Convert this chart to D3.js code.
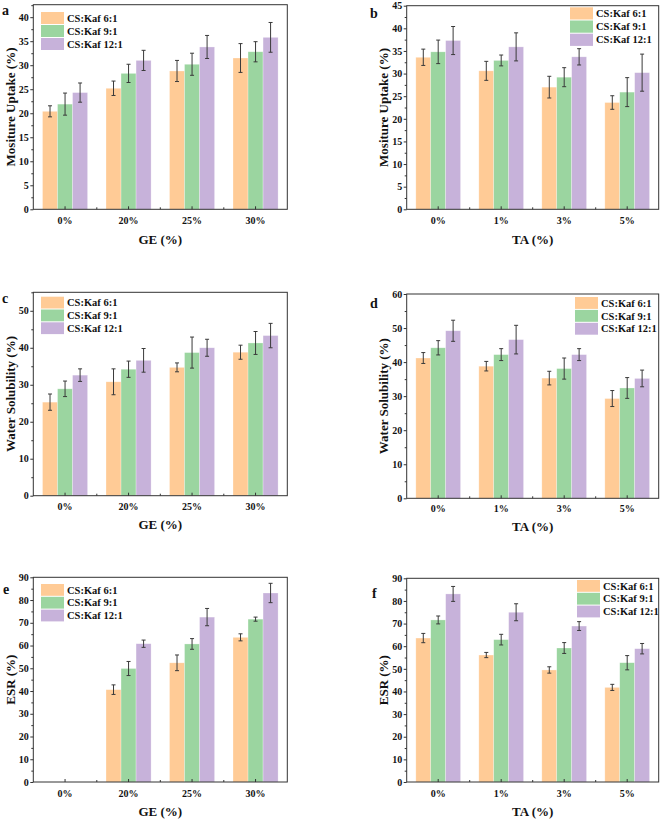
<!DOCTYPE html>
<html>
<head>
<meta charset="utf-8">
<script src="https://cdn.jsdelivr.net/npm/d3@7"></script>
<style>
html,body{margin:0;padding:0;background:#fff;}
svg{display:block;}
</style>
</head>
<body>
<svg id="chart" width="661" height="820"></svg>
<script>
// ---------- data ----------
const seriesNames = ["CS:Kaf 6:1", "CS:Kaf 9:1", "CS:Kaf 12:1"];
const geLevels = ["0%", "20%", "25%", "30%"];
const taLevels = ["0%", "1%", "3%", "5%"];

// rows = series (6:1, 9:1, 12:1), columns = levels
const moistureGE    = [[20.4, 25.2, 28.8, 31.5], [21.9, 28.3, 30.2, 32.8], [24.3, 31.0, 33.8, 35.8]];
const moistureGEErr = [[1.15, 1.5, 2.2, 3.0], [2.3, 1.9, 2.3, 2.1], [2.0, 2.1, 2.4, 3.1]];
const moistureTA    = [[33.6, 30.6, 27.0, 23.6], [34.8, 32.9, 29.2, 25.9], [37.3, 35.9, 33.7, 30.2]];
const moistureTAErr = [[1.8, 2.1, 2.4, 1.5], [2.6, 1.2, 2.1, 3.2], [3.1, 3.1, 1.8, 4.1]];
const solubilityGE    = [[25.3, 30.8, 34.7, 38.8], [28.9, 34.2, 38.7, 41.3], [32.6, 36.6, 40.0, 43.3]];
const solubilityGEErr = [[2.2, 3.5, 1.2, 1.9], [2.1, 2.2, 4.2, 3.1], [1.7, 3.2, 2.3, 3.3]];
const solubilityTA    = [[41.2, 38.8, 35.3, 29.3], [44.2, 42.2, 38.1, 32.4], [49.2, 46.6, 42.2, 35.2]];
const solubilityTAErr = [[1.6, 1.4, 2.0, 2.35], [2.1, 1.75, 3.1, 3.05], [3.1, 4.2, 1.75, 2.45]];
const esrGE    = [[null, 40.6, 52.4, 63.6], [null, 49.9, 60.7, 71.6], [null, 60.8, 72.5, 83.1]];
const esrGEErr = [[null, 2.1, 3.45, 1.55], [null, 3.1, 2.35, 0.9], [null, 1.6, 3.8, 4.25]];
const esrTA    = [[63.6, 56.1, 49.5, 41.8], [71.6, 62.9, 59.2, 52.7], [83.1, 75.0, 68.9, 58.9]];
const esrTAErr = [[2.05, 1.15, 1.4, 1.35], [1.75, 2.35, 2.4, 3.15], [3.3, 3.75, 1.95, 2.3]];

const yMaxes = [42.6, 45, 55, 60, 90, 90];
const yMajorSteps = [5, 5, 10, 10, 10, 10];
const yTitles = ["Mositure Uptake (%)", "Mositure Uptake (%)", "Water Solubility (%)", "Water Solubility (%)", "ESR (%)", "ESR (%)"];
const xTitles = ["GE (%)", "TA (%)", "GE (%)", "TA (%)", "GE (%)", "TA (%)"];
const panelLetters = ["a", "b", "c", "d", "e", "f"];

// ---------- styles / layout ----------
const colors = ["#FFCB96", "#9BD5A0", "#C7B2DA"];
const FONT = "'Liberation Serif','Times New Roman',Times,serif";

const layouts = [
  {left: 33.3, top: 4.7, w: 254, h: 204.6, legX: 41, legY: 12, legStep: 13, letter: [2, 15], yTitleX: 10, tickBase: 224, titleBase: 243.5},
  {left: 406.7, top: 5.7, w: 252, h: 203.6, legX: 570, legY: 7.3, legStep: 13.2, letter: [370, 18], yTitleX: 383, tickBase: 224, titleBase: 243.5},
  {left: 33.3, top: 292.3, w: 254, h: 203.4, legX: 41, legY: 296.7, legStep: 12.8, letter: [2, 303], yTitleX: 10, tickBase: 510, titleBase: 529},
  {left: 406.7, top: 294, w: 252, h: 204.3, legX: 575, legY: 297, legStep: 12.9, letter: [370, 308], yTitleX: 383, tickBase: 512, titleBase: 531},
  {left: 33.3, top: 577.3, w: 254, h: 204.7, legX: 41, legY: 584, legStep: 12.8, letter: [3, 594], yTitleX: 10, tickBase: 797, titleBase: 816},
  {left: 406.7, top: 578.3, w: 252, h: 203.7, legX: 577, legY: 580, legStep: 12.8, letter: [372, 598], yTitleX: 383, tickBase: 797, titleBase: 816}
];

const panelData = [
  {cats: geLevels, vals: moistureGE, errs: moistureGEErr},
  {cats: taLevels, vals: moistureTA, errs: moistureTAErr},
  {cats: geLevels, vals: solubilityGE, errs: solubilityGEErr},
  {cats: taLevels, vals: solubilityTA, errs: solubilityTAErr},
  {cats: geLevels, vals: esrGE, errs: esrGEErr},
  {cats: taLevels, vals: esrTA, errs: esrTAErr}
];

const svg = d3.select("#chart");

panelData.forEach((pd, i) => {
  const L = layouts[i];
  const g = svg.append("g");
  const bottom = L.top + L.h;

  const x = d3.scaleBand().domain(pd.cats).range([L.left, L.left + L.w])
    .paddingInner(0.29).paddingOuter(0.145);
  const xs = d3.scaleBand().domain(d3.range(seriesNames.length)).range([0, x.bandwidth()]);
  const y = d3.scaleLinear().domain([0, yMaxes[i]]).range([bottom, L.top]);

  // bars
  const flat = [];
  pd.vals.forEach((row, s) => row.forEach((v, c) => {
    if (v !== null) flat.push({s, c, v, e: pd.errs[s][c]});
  }));

  g.selectAll("rect.bar").data(flat).enter().append("rect")
    .attr("class", "bar")
    .attr("x", d => x(pd.cats[d.c]) + xs(d.s))
    .attr("y", d => y(d.v))
    .attr("width", xs.bandwidth())
    .attr("height", d => y(0) - y(d.v))
    .attr("fill", d => colors[d.s])
    .attr("stroke", "#ffffff")
    .attr("stroke-opacity", 0.45)
    .attr("stroke-width", 0.6);

  // error bars
  const eb = g.selectAll("g.eb").data(flat).enter().append("g").attr("class", "eb")
    .attr("stroke", "#3a3a3a").attr("stroke-width", 1);
  const cx = d => x(pd.cats[d.c]) + xs(d.s) + xs.bandwidth() / 2;
  eb.append("line")
    .attr("x1", cx).attr("x2", cx)
    .attr("y1", d => y(d.v + d.e)).attr("y2", d => y(d.v - d.e));
  eb.append("line")
    .attr("x1", d => cx(d) - 2).attr("x2", d => cx(d) + 2)
    .attr("y1", d => y(d.v + d.e)).attr("y2", d => y(d.v + d.e));
  eb.append("line")
    .attr("x1", d => cx(d) - 2).attr("x2", d => cx(d) + 2)
    .attr("y1", d => y(d.v - d.e)).attr("y2", d => y(d.v - d.e));

  // y axis
  const step = yMajorSteps[i];
  const majors = d3.range(0, yMaxes[i] + 1e-6, step);
  const minors = d3.range(step / 2, yMaxes[i] + 1e-6, step).filter(v => !majors.includes(v));
  const yAx = g.append("g").attr("transform", `translate(${L.left},0)`)
    .call(d3.axisLeft(y).tickValues(majors).tickSize(3).tickPadding(1.5).tickFormat(d3.format("d")));
  yAx.select(".domain").remove();
  yAx.selectAll("text").attr("font-family", FONT).attr("font-weight", "bold")
    .attr("font-size", 10).attr("fill", "#111");
  yAx.selectAll("line").attr("stroke", "#333");
  const yMin = g.append("g").attr("transform", `translate(${L.left},0)`)
    .call(d3.axisLeft(y).tickValues(minors).tickSize(2).tickFormat(""));
  yMin.select(".domain").remove();
  yMin.selectAll("line").attr("stroke", "#333");

  // x axis
  const xAx = g.append("g").attr("transform", `translate(0,${bottom})`)
    .call(d3.axisBottom(x).tickSizeInner(-3).tickSizeOuter(0).tickPadding(L.tickBase - bottom - 7.1));
  xAx.select(".domain").remove();
  xAx.selectAll("text").attr("font-family", FONT).attr("font-weight", "bold")
    .attr("font-size", 10).attr("fill", "#111");
  xAx.selectAll("line").attr("stroke", "#333");
  // minor x ticks between groups
  const bounds = pd.cats.slice(1).map(c => x(c) - x.step() * x.paddingInner() / 2);
  g.selectAll("line.xminor").data(bounds).enter().append("line")
    .attr("x1", d => d).attr("x2", d => d)
    .attr("y1", bottom).attr("y2", bottom - 2)
    .attr("stroke", "#333");

  // frame
  g.append("rect").attr("x", L.left).attr("y", L.top).attr("width", L.w).attr("height", L.h)
    .attr("fill", "none").attr("stroke", "#333").attr("stroke-width", 1);

  // legend
  const leg = g.append("g");
  seriesNames.forEach((name, s) => {
    leg.append("rect")
      .attr("x", L.legX).attr("y", L.legY + s * L.legStep)
      .attr("width", 23).attr("height", L.legStep - 1)
      .attr("fill", colors[s]);
    leg.append("text")
      .attr("x", L.legX + 26).attr("y", L.legY + s * L.legStep + (L.legStep - 1) / 2)
      .attr("dy", "0.35em")
      .attr("font-family", FONT).attr("font-weight", "bold").attr("font-size", 10.5)
      .attr("fill", "#111").text(name);
  });

  // titles
  g.append("text")
    .attr("x", L.left + L.w / 2).attr("y", L.titleBase)
    .attr("text-anchor", "middle")
    .attr("font-family", FONT).attr("font-weight", "bold").attr("font-size", 13)
    .attr("fill", "#111").text(xTitles[i]);
  g.append("text")
    .attr("transform", `translate(${L.yTitleX},${L.top + L.h / 2}) rotate(-90)`)
    .attr("text-anchor", "middle").attr("dy", "0.35em")
    .attr("font-family", FONT).attr("font-weight", "bold").attr("font-size", 13)
    .attr("fill", "#111").text(yTitles[i]);
  g.append("text")
    .attr("x", L.letter[0]).attr("y", L.letter[1])
    .attr("font-family", FONT).attr("font-weight", "bold").attr("font-size", 14)
    .attr("fill", "#111").text(panelLetters[i]);
});
</script>
</body>
</html>
